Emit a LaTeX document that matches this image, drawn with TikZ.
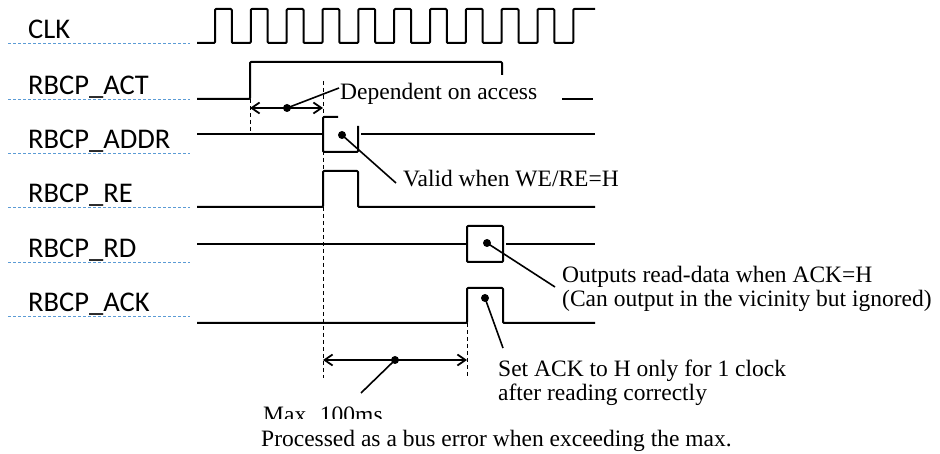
\documentclass[tikz,border=0pt]{standalone}
\usepackage{fontspec}
\setmainfont{Liberation Serif}
\newfontfamily\lblfont{Carlito}
\usetikzlibrary{arrows.meta}
\definecolor{guidecol}{RGB}{91,155,213}
\begin{document}
\begin{tikzpicture}[x=1pt,y=-1pt,
  lbl/.style={anchor=base west,inner sep=0pt,font=\lblfont\fontsize{28.5}{30}\selectfont},
  txt/.style={anchor=base west,inner sep=0pt,font=\fontsize{23.5}{24}\selectfont},
  guide/.style={draw=guidecol,line width=1pt,dash pattern=on 3pt off 2pt},
  wave/.style={line width=2pt,line join=round,rounded corners=1pt},
  vdash/.style={line width=0.9pt,dash pattern=on 4pt off 3pt},
  lead/.style={line width=1.6pt},
  dim/.style={line width=1.8pt,{Straight Barb[length=8pt,width=11pt]}-{Straight Barb[length=8pt,width=11pt]}},
  dot/.style={circle,fill=black,inner sep=0pt,minimum size=8pt}]
\useasboundingbox (0,0) rectangle (940,454);

% signal labels
\node[lbl] (lclk)  at (28,39)  {CLK};
\node[lbl] (lact)  at (28,95)  {RBCP\_ACT};
\node[lbl] (laddr) at (28,149) {RBCP\_ADDR};
\node[lbl] (lre)   at (28,203) {RBCP\_RE};
\node[lbl] (lrd)   at (28,258) {RBCP\_RD};
\node[lbl] (lack)  at (28,312) {RBCP\_ACK};
\foreach \yy in {43.5,99.5,153.5,207.5,262.5,316.5} \draw[guide] (8,\yy) -- (190,\yy);

% CLK
\draw[wave] (197,43) -| (215,9) -| (231.8,43) -| (250.8,9) -| (267.7,43)
  -| (286.7,9) -| (303.5,43) -| (322.5,9) -| (339.3,43) -| (358.3,9)
  -| (375.2,43) -| (394.2,9) -| (411,43) -| (430,9) -| (446.8,43)
  -| (465.8,9) -| (482.7,43) -| (501.6,9) -| (518.5,43) -| (537.5,9)
  -| (554.3,43) -| (573.3,9) -- (595,9);

% RBCP_ACT
\draw[wave] (197,99) -| (250,62) -| (502,75);
\draw[wave] (562,99) -- (593,99);

% RBCP_ADDR
\draw[wave] (197,134) -- (323,134);
\draw[wave] (338,117) -- (323,117) -- (323,152) -- (358,152) -- (358,126);
\draw[wave] (361,134) -- (595,134);

% RBCP_RE
\draw[wave] (197,207) -| (323,171) -| (358,207) -- (595,207);

% RBCP_RD
\draw[wave] (197,244) -- (467,244);
\draw[wave] (467,226) rectangle (503,262);
\draw[wave] (506,244) -- (595,244);

% RBCP_ACK
\draw[wave] (197,323) -| (467,288) -| (503,323) -- (595,323);

% vertical dashed guides
\draw[vdash] (250,99) -- (250,135);
\draw[vdash] (323,81) -- (323,378);
\draw[vdash] (467,323) -- (467,378);

% access-dependent arrow
\coordinate (a1l) at (250,108);
\coordinate (a1r) at (323,108);
\draw[dim] (a1l) -- (a1r);
\node[dot] (d1) at (287,108) {};
\coordinate (e1) at (339,88);
\draw[lead] (d1.center) -- (e1);
\node[txt] (t1) at (340,100) {Dependent on access};

% ADDR valid
\node[dot] (d2) at (342,135) {};
\coordinate (e2) at (396,183);
\draw[lead] (d2.center) -- (e2);
\node[txt] (t2) at (403,187) {Valid when WE/RE=H};

% RD output
\node[dot] (d3) at (487,243) {};
\coordinate (e3) at (555,287);
\draw[lead] (d3.center) -- (e3);
\node[txt] (t3a) at (562,283) {Outputs read-data when ACK=H};
\node[txt] (t3b) at (562,307) {(Can output in the vicinity but ignored)};

% ACK
\node[dot] (d4) at (485,298) {};
\coordinate (e4) at (503,348);
\draw[lead] (d4.center) -- (e4);
\node[txt] (t4a) at (498,376) {Set ACK to H only for 1 clock};
\node[txt] (t4b) at (498,400) {after reading correctly};

% max 100ms arrow
\coordinate (a2l) at (323,360);
\coordinate (a2r) at (467,360);
\draw[dim] (a2l) -- (a2r);
\node[dot] (d5) at (395,360) {};
\coordinate (e5) at (361,393);
\draw[lead] (d5.center) -- (e5);
\begin{scope}
  \clip (250,395) rectangle (420,418);
  \node[txt] (t5) at (263,422) {Max. 100ms};
\end{scope}
\node[txt] (t6) at (261,446) {Processed as a bus error when exceeding the max.};
\end{tikzpicture}
\end{document}
